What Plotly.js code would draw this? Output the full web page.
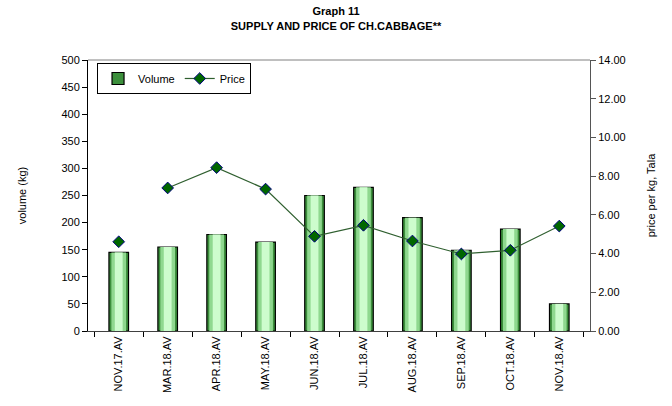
<!DOCTYPE html>
<html><head><meta charset="utf-8">
<script src="https://cdn.plot.ly/plotly-3.0.1.min.js"></script>
<style>html,body{margin:0;padding:0;background:#fff}#chart{width:672px;height:406px}</style>
</head><body><div id="chart"></div>
<script>
const categories = ['NOV.17.AV','MAR.18.AV','APR.18.AV','MAY.18.AV','JUN.18.AV','JUL.18.AV','AUG.18.AV','SEP.18.AV','OCT.18.AV','NOV.18.AV'];
const volume = [145, 155, 178, 164, 250, 265, 209, 149, 188, 50];
const price = [4.61, 7.39, 8.44, 7.33, 4.89, 5.46, 4.65, 3.98, 4.17, 5.42];

const font = 'Liberation Sans, Arial, sans-serif';
const diamond = {symbol:'diamond', size:9, color:'#006600', line:{color:'#000080', width:1}};

const traces = [
  {type:'bar', x:categories, y:volume, name:'Volume', width:0.4,
   marker:{color:'#3c8f3c', line:{color:'#000000', width:1.2}}, showlegend:true},
  {type:'bar', x:categories, y:volume, name:'Volume', width:0.3,
   marker:{color:'#8fd88f', line:{width:0}}, showlegend:false, hoverinfo:'skip'},
  {type:'bar', x:categories, y:volume, name:'Volume', width:0.16,
   marker:{color:'#cdfccd', line:{width:0}}, showlegend:false, hoverinfo:'skip'},
  {type:'scatter', mode:'markers', x:categories.slice(0,1), y:price.slice(0,1), yaxis:'y2',
   name:'Price', marker:diamond, showlegend:false},
  {type:'scatter', mode:'lines+markers', x:categories.slice(1), y:price.slice(1), yaxis:'y2',
   name:'Price', marker:diamond, line:{color:'#2f5f2f', width:1.2}, showlegend:true}
];

const layout = {
  width:672, height:406,
  margin:{l:88, r:82, t:60, b:75},
  paper_bgcolor:'#fff', plot_bgcolor:'#fff',
  font:{family:font, size:11, color:'#000'},
  barmode:'overlay',
  title:{text:'<b>Graph 11</b><br><b>SUPPLY AND PRICE OF CH.CABBAGE**</b>', font:{family:font, size:11, color:'#000'}, x:0.5, xanchor:'center', y:0.962, yanchor:'top'},
  xaxis:{type:'category', tickangle:-90, tickfont:{size:11, family:font}, showline:true, linecolor:'#404040', linewidth:1,
    ticks:'outside', ticklen:5, tickson:'boundaries', tickcolor:'#000', showgrid:false, zeroline:false},
  yaxis:{range:[0,500], dtick:50, showline:true, linecolor:'#000', linewidth:1, ticks:'outside', ticklen:5, tickcolor:'#000',
    showgrid:false, zeroline:false, tickfont:{size:11, family:font},
    title:{text:'volume (kg)', font:{size:11, family:font}, standoff:32}},
  yaxis2:{range:[0,14], dtick:2, tickformat:'.2f', overlaying:'y', side:'right', showline:true, linecolor:'#555', linewidth:1,
    ticks:'outside', ticklen:5, tickcolor:'#555', showgrid:false, zeroline:false, tickfont:{size:11, family:font},
    title:{text:'price per kg, Tala', font:{size:11, family:font}, standoff:22}},
  legend:{orientation:'h', x:0.018, y:0.989, xanchor:'left', yanchor:'top', bordercolor:'#000', borderwidth:1, bgcolor:'#fff',
    font:{size:11, family:font}, itemwidth:30, tracegroupgap:0},
  shapes:[{type:'line', xref:'paper', yref:'paper', x0:0, x1:1, y0:1, y1:1, line:{color:'#808080', width:1}}]
};

Plotly.newPlot('chart', traces, layout, {displayModeBar:false, staticPlot:true});
</script></body></html>
